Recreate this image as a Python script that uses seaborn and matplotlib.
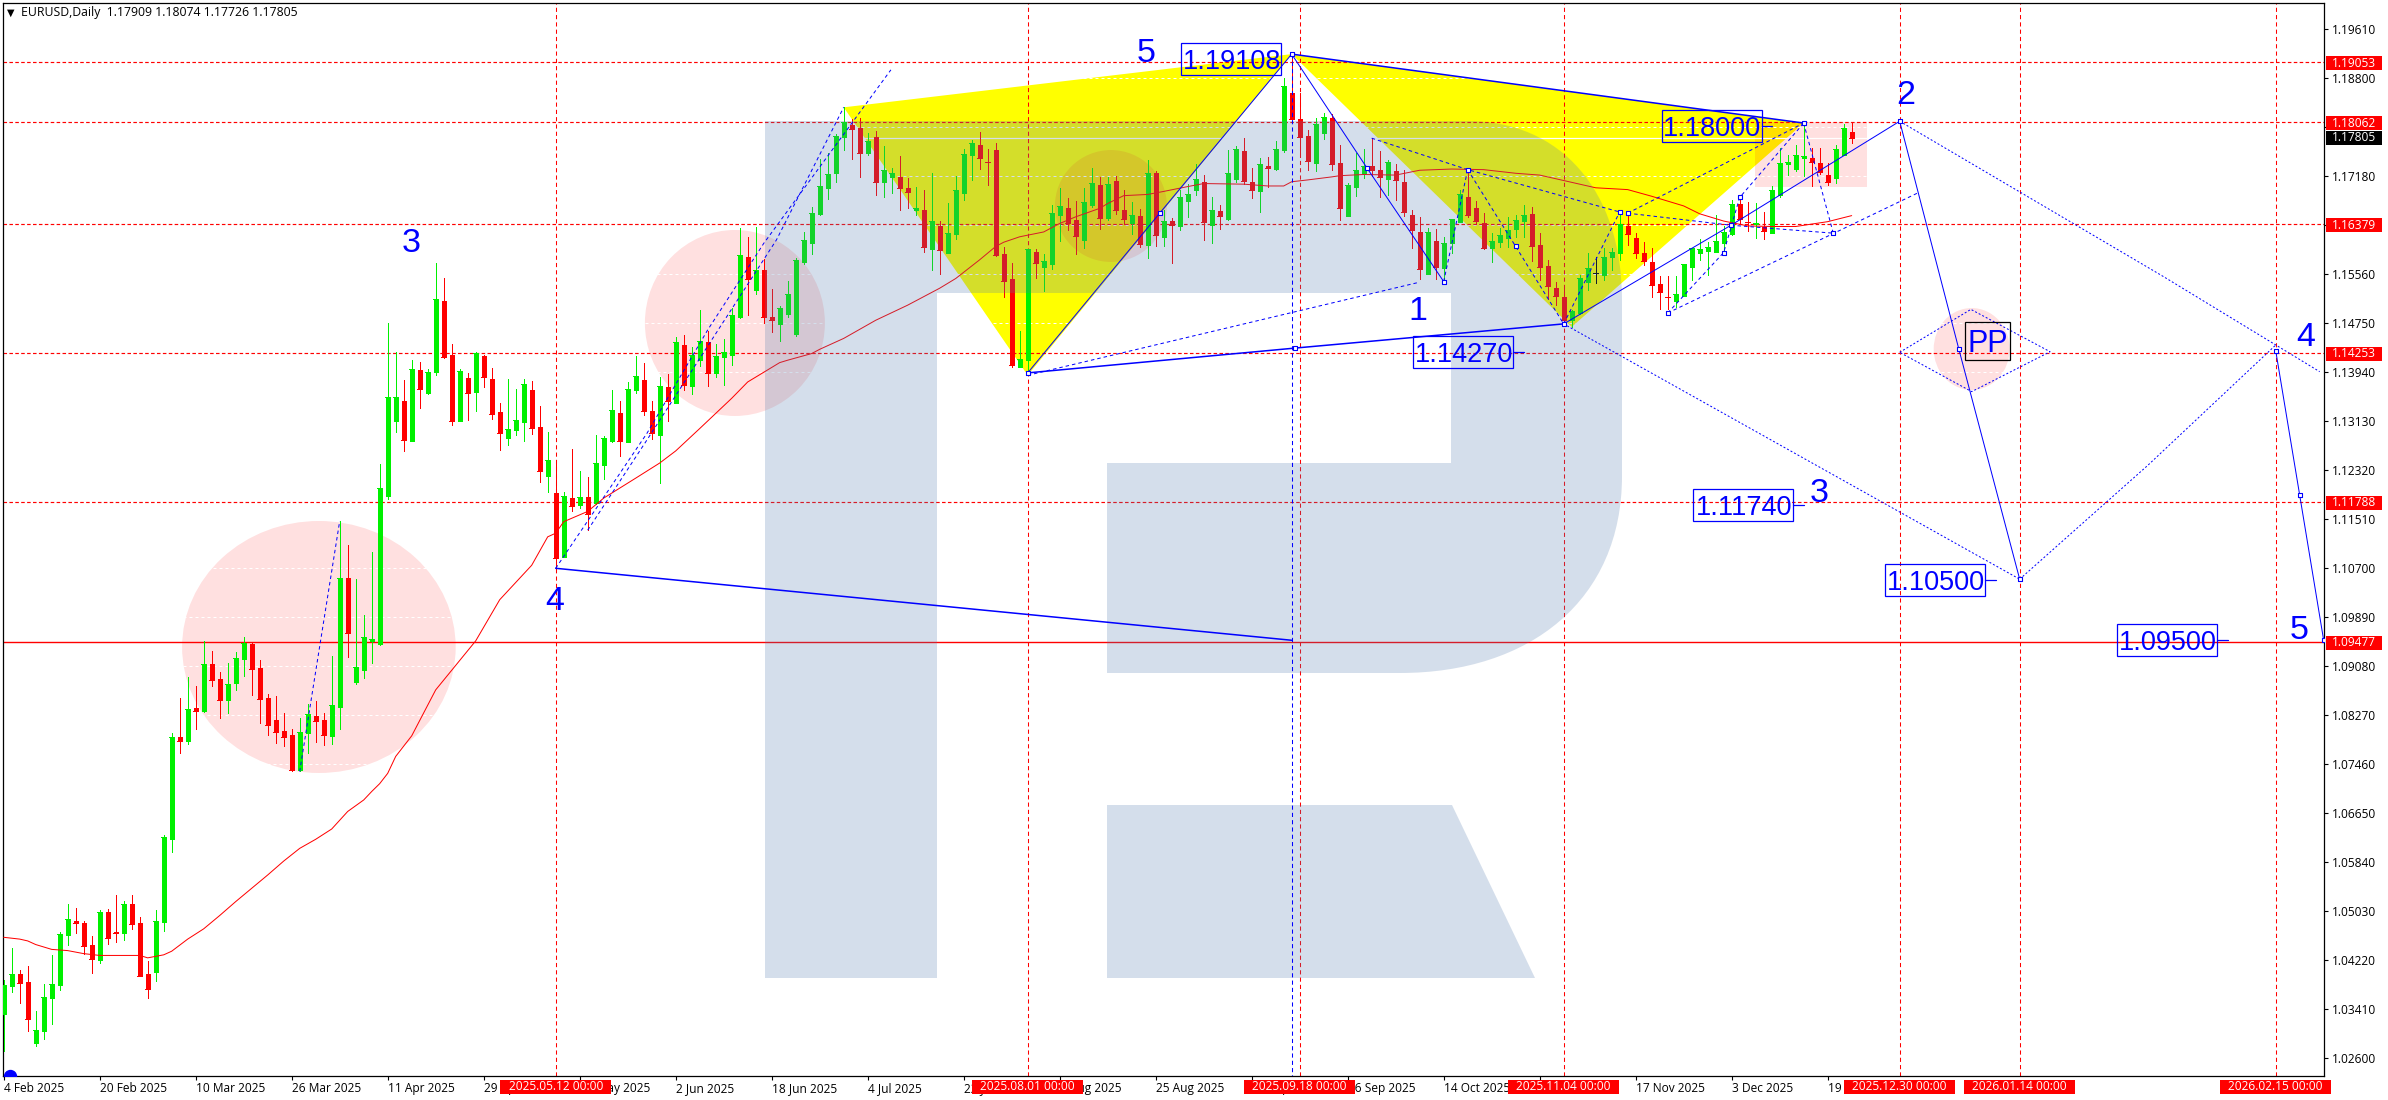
import numpy as np
import matplotlib
matplotlib.use("Agg")
import matplotlib.pyplot as plt
import seaborn as sns
from matplotlib.patches import Rectangle, Ellipse, Polygon, PathPatch
from matplotlib.path import Path
from matplotlib.transforms import Affine2D

# ---- daily candles, prices in units of 0.0001 ----
highs = [
10388,10441,10405,10412,10337,10382,10430,10468,10514,10507,10486,10461,
10504,10506,10529,10519,10529,10493,10420,10504,10628,10797,10855,10889,
10875,10949,10932,10898,10912,10931,10956,10947,10917,10861,10858,10830,
10803,10822,10845,10850,10830,10924,11147,11108,11051,10992,11096,11241,
11475,11426,11381,11414,11410,11399,11574,11549,11440,11399,11392,11426,
11422,11400,11343,11382,11366,11382,11379,11338,11295,11243,11195,11267,
11229,11220,11290,11288,11364,11346,11377,11420,11409,11346,11386,11390,
11452,11455,11435,11496,11462,11440,11448,11500,11632,11616,11634,11581,
11531,11503,11544,11582,11625,11666,11746,11755,11787,11831,11812,11813,
11788,11792,11767,11731,11751,11714,11699,11694,11722,11643,11673,11717,
11762,11777,11790,11762,11772,11600,11574,11461,11597,11597,11589,11670,
11698,11681,11676,11698,11731,11716,11716,11717,11694,11675,11663,11744,
11726,11661,11648,11694,11704,11737,11719,11683,11670,11760,11767,11780,
11731,11747,11749,11775,11880,11914,11854,11793,11813,11821,11820,11769,
11706,11755,11762,11780,11759,11744,11737,11727,11661,11650,11631,11630,
11617,11646,11694,11729,11676,11656,11623,11631,11650,11653,11670,11666,
11623,11579,11542,11537,11496,11554,11591,11584,11598,11598,11657,11653,
11623,11608,11598,11552,11553,11552,11572,11598,11613,11608,11653,11635,
11678,11684,11675,11673,11658,11701,11763,11752,11769,11807,11764,11764,
11739,11769,11803,11807.4]
lows = [
10271,10369,10350,10304,10279,10291,10316,10372,10446,10466,10431,10400,
10417,10448,10451,10455,10473,10395,10359,10387,10470,10600,10764,10779,
10803,10832,10875,10822,10830,10868,10891,10860,10813,10793,10780,10775,
10734,10734,10764,10782,10777,10779,10803,10922,10877,10887,10912,10942,
11184,11295,11263,11280,11334,11357,11389,11417,11306,11313,11314,11329,
11369,11316,11265,11273,11290,11280,11291,11212,11195,11067,11088,11164,
11169,11133,11176,11217,11278,11255,11278,11359,11323,11283,11210,11313,
11343,11364,11357,11404,11371,11386,11372,11405,11483,11488,11523,11475,
11460,11445,11485,11453,11572,11589,11653,11680,11708,11760,11746,11716,
11752,11686,11683,11689,11661,11664,11653,11592,11562,11556,11590,11613,
11678,11711,11729,11703,11585,11517,11402,11402,11397,11549,11527,11564,
11610,11628,11589,11598,11666,11630,11645,11655,11638,11621,11600,11582,
11602,11602,11574,11628,11650,11686,11612,11607,11630,11645,11708,11704,
11681,11658,11699,11727,11757,11812,11749,11727,11726,11779,11727,11645,
11651,11684,11714,11717,11683,11686,11678,11651,11598,11547,11555,11547,
11547,11590,11641,11650,11638,11597,11575,11600,11600,11617,11617,11577,
11546,11514,11505,11471,11468,11489,11529,11541,11546,11562,11578,11603,
11582,11570,11517,11497,11497,11501,11519,11546,11578,11554,11592,11595,
11620,11638,11627,11615,11613,11623,11683,11719,11726,11717,11701,11721,
11703,11706,11752,11772.6]
opens = [
10333,10378,10399,10385,10284,10304,10359,10380,10463,10486,10483,10446,
10422,10501,10468,10466,10514,10483,10398,10402,10484,10622,10790,10784,
10838,10833,10911,10886,10851,10880,10919,10944,10904,10855,10818,10800,
10793,10736,10797,10825,10818,10792,10840,11053,10881,10901,10948,10944,
11189,11313,11346,11280,11397,11359,11394,11511,11422,11313,11384,11361,
11420,11382,11328,11285,11298,11311,11364,11303,11222,11194,11088,11186,
11174,11187,11177,11240,11280,11326,11278,11364,11381,11329,11290,11369,
11343,11438,11371,11414,11443,11392,11419,11422,11485,11584,11529,11562,
11485,11473,11490,11457,11576,11606,11655,11698,11722,11782,11802,11797,
11755,11782,11708,11716,11716,11698,11661,11661,11597,11635,11590,11622,
11689,11752,11769,11741,11760,11589,11547,11402,11413,11592,11567,11572,
11653,11664,11645,11612,11670,11703,11648,11709,11661,11639,11651,11603,
11722,11617,11643,11635,11676,11694,11708,11637,11660,11646,11713,11759,
11708,11693,11734,11729,11760,11854,11812,11784,11739,11788,11813,11739,
11651,11699,11722,11734,11727,11712,11726,11708,11653,11625,11555,11610,
11565,11607,11641,11683,11664,11639,11598,11608,11615,11630,11643,11655,
11603,11569,11533,11517,11480,11491,11542,11557,11554,11584,11590,11635,
11615,11590,11575,11539,11518,11511,11519,11567,11590,11593,11592,11607,
11622,11671,11642,11638,11633,11623,11686,11737,11729,11747,11747,11739,
11719,11714,11752,11790.9]
closes = [
10380,10398,10383,10324,10306,10360,10382,10465,10489,10483,10445,10423,
10501,10458,10466,10514,10481,10395,10374,10486,10625,10790,10784,10837,
10833,10911,10884,10851,10878,10921,10945,10903,10853,10810,10798,10790,
10736,10798,10828,10817,10793,10843,11053,10962,10906,10956,10952,11202,
11352,11352,11281,11399,11366,11394,11514,11419,11313,11395,11359,11425,
11386,11324,11293,11300,11314,11374,11301,11229,11248,11086,11189,11172,
11187,11159,11243,11285,11331,11280,11366,11387,11329,11293,11371,11346,
11443,11372,11422,11445,11392,11420,11427,11488,11587,11548,11562,11485,
11480,11500,11523,11579,11612,11656,11701,11721,11784,11807,11795,11755,
11775,11708,11727,11722,11698,11691,11664,11600,11643,11595,11623,11694,
11754,11772,11747,11740,11587,11544,11405,11415,11597,11574,11577,11656,
11668,11640,11618,11675,11706,11648,11704,11661,11646,11653,11605,11722,
11620,11643,11637,11683,11688,11713,11641,11661,11651,11722,11762,11709,
11694,11737,11731,11762,11866,11812,11782,11742,11803,11815,11737,11664,
11703,11727,11734,11727,11716,11740,11711,11658,11628,11564,11625,11567,
11607,11646,11688,11653,11643,11598,11610,11620,11628,11645,11653,11602,
11567,11536,11519,11480,11494,11549,11565,11557,11584,11592,11638,11622,
11590,11577,11537,11526,11517,11522,11572,11598,11597,11600,11610,11625,
11671,11646,11641,11639,11627,11694,11739,11740,11752,11750,11740,11724,
11707,11762,11797,11780.5]
assert len(highs) == len(lows) == len(opens) == len(closes) == 232

# ---- moving average ----
ma_bars = [0,2,3,4,6,8,10,12,14,17,18,20,21,23,25,27,29,31,33,35,37,39,41,43,45,46,47,48,49,
           51,54,59,62,66,68,69,70,73,75,79,82,84,87,89,91,93,96,97,98,101,102,105,109,113,117,
           119,122,124,125,127,130,132,134,137,138,140,143,145,148,150,155,158,160,161,163,166,
           167,170,174,177,181,185,189,192,195,199,203,206,210,212,215,218,221,224,228,231]
ma_vals = [10459,10456,10453,10447,10439,10437,10432,10429,10429,10429,10425,10430,10436,10456,10473,
           10495,10518,10540,10562,10585,10606,10621,10638,10667,10686,10700,10713,10730,10758,
           10792,10868,10949,11017,11074,11121,11127,11146,11163,11185,11218,11243,11263,11300,
           11325,11350,11377,11401,11409,11413,11424,11431,11449,11479,11504,11532,11548,11579,
           11601,11608,11617,11625,11639,11650,11664,11672,11685,11687,11692,11700,11705,11704,
           11701,11701,11708,11711,11716,11718,11720,11719,11727,11729,11728,11722,11719,11710,
           11698,11695,11684,11668,11655,11643,11635,11634,11634,11642,11652]
assert len(ma_bars) == len(ma_vals)

# ---- levels and labels ----
axis_ticks = [1.1961,1.1880,1.1799,1.1718,1.1637,1.1556,1.1475,1.1394,1.1313,1.1232,1.1151,
              1.1070,1.0989,1.0908,1.0827,1.0746,1.0665,1.0584,1.0503,1.0422,1.0341,1.0260]
hidden_ticks = [1.1799, 1.1637]
dashed_levels = [1.19053, 1.18062, 1.16379, 1.14253, 1.11788]
solid_level = 1.09477
last_price = 1.17805
date_bars = [69, 128, 162, 195, 237, 252, 284]
date_texts = ["2025.05.12 00:00","2025.08.01 00:00","2025.09.18 00:00","2025.11.04 00:00",
              "2025.12.30 00:00","2026.01.14 00:00","2026.02.15 00:00"]
tick_bars = list(range(0, 229, 12))
tick_dates = ["4 Feb 2025","20 Feb 2025","10 Mar 2025","26 Mar 2025","11 Apr 2025","29 Apr 2025",
              "15 May 2025","2 Jun 2025","18 Jun 2025","4 Jul 2025","22 Jul 2025","7 Aug 2025",
              "25 Aug 2025","10 Sep 2025","26 Sep 2025","14 Oct 2025","30 Oct 2025","17 Nov 2025",
              "3 Dec 2025","19 Dec 2025"]

box_values = [1.19108, 1.18000, 1.14270, 1.11740, 1.10500, 1.09500]
box_right_bars = [159.7, 219.75, 188.7, 223.7, 247.7, 276.7]
box_has_tick = [False, True, True, True, True, True]

wave_texts = ["3","4","5","1","2","3","4","5"]
wave_bars = [50.9,68.9,142.8,176.8,237.8,226.9,287.8,286.9]
wave_prices = [11612,11020,11926,11499,11857,11198,11457,10972]

# ---- wave lines (bar, price in 0.0001) ----
thick_lines = [([69,161],[11069,10950]), ([161,225],[11919,11805]), ([128,161.4,195],[11392,11433,11473])]
thin_lines = [([128,144.5,161],[11392,11656,11919]), ([161,170.45,180],[11919,11730,11543]),
              ([195,215.9,237],[11473,11636,11808]), ([237,244.4,252],[11808,11431,11051]),
              ([284,287,290],[11429,11190,10950])]
dash_lines = [([37,42],[10733,11147]),
              ([69,80.4,88,95,110.9],[11069,11292,11463,11606,11893]),
              ([73,80.4,96.6,105],[11132,11281,11612,11831]),
              ([128,177],[11388,11542]),
              ([171,183,202],[11780,11728,11658]),
              ([203,216,228.7],[11656,11636,11623]),
              ([183,189,195],[11728,11601,11473]),
              ([180,183],[11543,11728]),
              ([195,202],[11473,11658]),
              ([203,225],[11656,11805]),
              ([208,239.5],[11491,11691]),
              ([208,215,217,225],[11491,11591,11682,11805]),
              ([225,228.7],[11805,11623])]
dot_lines = [([237,270,289.5],[11808,11551,11394]),
             ([195,252],[11473,11051]),
             ([252,268,284],[11051,11239,11438]),
             ([237,245.9,255.8,246,237],[11426,11497,11427,11361,11426])]
marker_bars = [128,144.5,161,161.4,170.45,180,183,195,215.9,237,244.4,252,284,287,290,189,202,203,208,215,217,225,228.7]
marker_vals = [11392,11656,11919,11433,11730,11543,11728,11473,11636,11808,11431,11051,11429,11190,10950,11601,11658,11656,11491,11591,11682,11805,11623]

tri_one_bars = [105,161,128]
tri_one_vals = [11831,11919,11388]
tri_two_bars = [161,225,196]
tri_two_vals = [11919,11805,11468]

# ---- drawing ----
sns.set_style("white")
plt.rcParams["font.family"] = ["Open Sans", "DejaVu Sans"]
W, H = 2388, 1100
fig = plt.figure(figsize=(W/100, H/100), dpi=100, facecolor="white")
ax = fig.add_axes([2.5/W, (H-1076)/H, (2324-2.5)/W, (1076-2.5)/H])
px = Affine2D().scale(1, -1).translate(0, H)   # screen-pixel frame for the watermark and axis tags

o, h, l, c = [np.array(a, float)/1e4 for a in (opens, highs, lows, closes)]
idx = np.arange(len(o))
ax.set_xlim(-0.15, 290.04)
ax.set_ylim(1.02297, 1.20043)

BLUE, RED, LIME = "#0000FF", "#FF0000", "#00F000"
cols = [LIME if b > a else (RED if b < a else "black") for a, b in zip(o, c)]

# yellow triangles
for bs, vs in ((tri_one_bars, tri_one_vals), (tri_two_bars, tri_two_vals)):
    ax.add_patch(Polygon(np.c_[bs, np.array(vs)/1e4], closed=True, fc="#FFFF00", ec="none", zorder=0.9))

# pink highlights
pink = (1, 0, 0, 0.12)
for (b, v, wb, hv) in [(39.4,1.09389,34.2,0.04166),(91.4,1.14745,22.5,0.03075),
                       (138.4,1.16679,14.0,0.0185),(246.0,1.14315,9.5,0.01355)]:
    ax.add_patch(Ellipse((b, v), wb, hv, fc=pink, ec="none", zorder=1))
ax.add_patch(Rectangle((218.9, 1.1700), 14.0, 0.0106, fc=pink, ec="none", zorder=1))

# grid, levels
for t in axis_ticks:
    ax.axhline(t, color="white", lw=0.72, ls=(0, (3, 3)), zorder=1.5)
ax.axhline(last_price, color="white", lw=0.9, zorder=1.6)
for lv in dashed_levels:
    ax.axhline(lv, color=RED, lw=0.85, ls=(0, (3, 2)), zorder=2)
ax.axhline(solid_level, color=RED, lw=1.0, zorder=2)
for b in date_bars:
    ax.axvline(b, color=RED, lw=0.75, ls=(0, (4, 3)), zorder=2)

# candles
ax.vlines(idx, l, h, colors=cols, lw=0.72, antialiased=False, zorder=3)
ax.vlines(idx, np.minimum(o, c), np.maximum(o, c), colors=cols, lw=3.6, antialiased=False,
          capstyle="butt", zorder=3)
ax.hlines(c, idx-0.31, idx+0.31, colors=cols, lw=0.72, antialiased=False, zorder=3)

# moving average
sns.lineplot(x=ma_bars, y=np.array(ma_vals)/1e4, color=RED, lw=0.72, ax=ax, zorder=3.2,
             estimator=None, sort=False, legend=False, errorbar=None)

# watermark logo, lying over the candles
verts = [(765,121),(1468,121),(1560,121),(1622,190),(1622,300),(1622,476),(1622,600),(1530,673),(1400,673),
         (1107,673),(1107,463),(1451,463),(1451,293),(937,293),(937,978),(765,978),(765,121),
         (1107,805),(1452,805),(1535,978),(1107,978),(1107,805)]
codes = [Path.MOVETO,Path.LINETO,Path.CURVE4,Path.CURVE4,Path.CURVE4,Path.LINETO,Path.CURVE4,Path.CURVE4,Path.CURVE4,
         Path.LINETO,Path.LINETO,Path.LINETO,Path.LINETO,Path.LINETO,Path.LINETO,Path.LINETO,Path.CLOSEPOLY,
         Path.MOVETO,Path.LINETO,Path.LINETO,Path.LINETO,Path.CLOSEPOLY]
ax.add_patch(PathPatch(Path(verts, codes), transform=px, fc=(0.32,0.48,0.68,0.243), ec="none", zorder=3.5))

# wave lines
def draw(lines, lw, ls):
    for bs, vs in lines:
        sns.lineplot(x=bs, y=np.array(vs)/1e4, color=BLUE, lw=lw, ls=ls, ax=ax, zorder=4,
                     estimator=None, sort=False, legend=False, errorbar=None)
draw(thick_lines, 1.1, "-")
draw(thin_lines, 0.72, "-")
draw(dash_lines, 0.72, (0, (3.5, 3)))
draw(dot_lines, 0.72, (0, (2, 2)))
ax.plot([161, 161], [1.1919, 1.0], color=BLUE, lw=0.75, ls=(0, (4, 3)), zorder=4)
sns.scatterplot(x=marker_bars, y=np.array(marker_vals)/1e4, marker="s", s=10, facecolor="white",
                edgecolor=BLUE, linewidth=0.8, ax=ax, zorder=4.2, legend=False)
ax.scatter([0.8], [1.0229], s=74, color=BLUE, zorder=4.2)

# price boxes
for val, rb, tk in zip(box_values, box_right_bars, box_has_tick):
    hgt = 32*1.653e-4
    ax.add_patch(Rectangle((rb-12.5, val-hgt/2), 12.5, hgt, fc="none", ec=BLUE, lw=0.9, zorder=5))
    ax.text(rb-6.2, val, f"{val:.5f}", family="Liberation Sans", fontsize=19.5, color=BLUE,
            ha="center", va="center_baseline", zorder=5)
    if tk:
        ax.plot([rb, rb+1.3], [val, val], color=BLUE, lw=0.9, zorder=5)

# wave numbers
for s, b, v in zip(wave_texts, wave_bars, wave_prices):
    ax.text(b, v/1e4, s, family="Liberation Sans", fontsize=24.5, color=BLUE,
            ha="center", va="center_baseline", zorder=5)
ax.add_patch(Rectangle((245.2, 1.1413), 5.55, 0.00628, fc="none", ec="black", lw=0.9, zorder=5))
ax.text(248.0, 1.1445, "PP", family="Liberation Sans", fontsize=22, color=BLUE,
        ha="center", va="center_baseline", zorder=5)

# axes
for s in ax.spines.values():
    s.set_visible(True); s.set_color("black"); s.set_linewidth(0.9)
ax.yaxis.tick_right()
ax.set_yticks(axis_ticks)
ax.set_yticklabels(["" if t in hidden_ticks else f"{t:.5f}" for t in axis_ticks])
ax.set_xticks(tick_bars)
ax.set_xticklabels(tick_dates, ha="left")
ax.tick_params(axis="y", length=3, width=0.8, pad=2.5, labelsize=8.6, colors="black", right=True)
ax.tick_params(axis="x", length=3, width=0.8, pad=1.5, labelsize=8.6, colors="black", bottom=True)
ax.set_xlabel(""); ax.set_ylabel("")

# axis tags, on top of everything
def tag(x0, x1, yc, s, fc, tx=None, ha="center"):
    fig.add_artist(Rectangle((x0, yc-7), x1-x0, 14, transform=px, fc=fc, ec="none", zorder=6))
    fig.text(tx if tx is not None else (x0+x1)/2, yc, s, transform=px, color="white", fontsize=8.6,
             ha=ha, va="center", zorder=7)

for lv in dashed_levels + [solid_level]:
    yc = ax.transData.transform((0, lv))[1]
    tag(2326, 2382, H-yc+1, f"{lv:.5f}", RED, tx=2332, ha="left")
yc = ax.transData.transform((0, last_price))[1]
tag(2326, 2382, H-yc, f"{last_price:.5f}", "black", tx=2332, ha="left")
for b, s in zip(date_bars, date_texts):
    xc = ax.transData.transform((b, 0))[0]
    tag(xc-55.5, xc+55.5, 1087, s, RED)

fig.text(21, 12.6, "EURUSD,Daily  1.17909 1.18074 1.17726 1.17805", transform=px, color="black",
         fontsize=8.8, ha="left", va="center", zorder=7)
fig.text(10.5, 12.6, "\u25BC", transform=px, color="black", fontsize=7, family="DejaVu Sans",
         ha="center", va="center", zorder=7)

fig.savefig("out.png", dpi=100, facecolor="white")
